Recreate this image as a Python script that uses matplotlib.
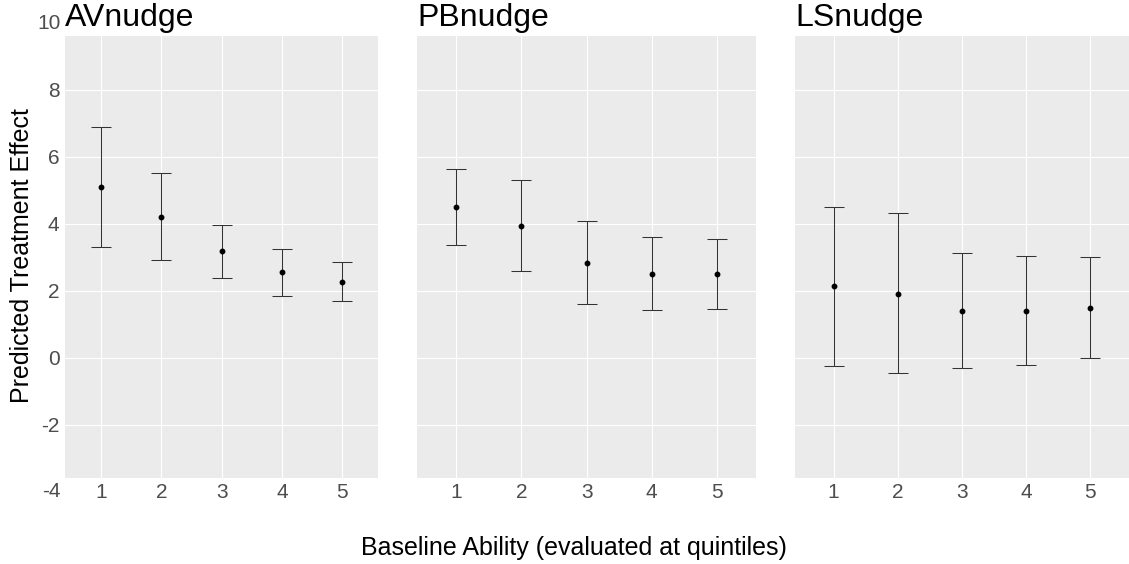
import numpy as np
import matplotlib.pyplot as plt
from matplotlib import transforms

plt.rcParams['font.family'] = ['Liberation Sans', 'DejaVu Sans']
plt.rcParams['axes.unicode_minus'] = False

# Data
quintiles = [1, 2, 3, 4, 5]
panels = ["AVnudge", "PBnudge", "LSnudge"]

av_est = [5.09, 4.21, 3.20, 2.55, 2.26]
av_low = [3.30, 2.91, 2.37, 1.83, 1.68]
av_high = [6.90, 5.53, 3.97, 3.26, 2.86]

pb_est = [4.49, 3.94, 2.84, 2.51, 2.49]
pb_low = [3.37, 2.58, 1.59, 1.42, 1.47]
pb_high = [5.63, 5.30, 4.10, 3.60, 3.54]

ls_est = [2.15, 1.91, 1.40, 1.40, 1.50]
ls_low = [-0.24, -0.47, -0.32, -0.22, 0.00]
ls_high = [4.51, 4.31, 3.14, 3.04, 3.00]

estimates = [av_est, pb_est, ls_est]
lows = [av_low, pb_low, ls_low]
highs = [av_high, pb_high, ls_high]

y_ticks = [-2, 0, 2, 4, 6, 8]
y_outside = [10, -4]  # labels drawn beyond the panel limits in the original

fig = plt.figure(figsize=(11.29, 5.64), dpi=100)

# panel positions [left, bottom, width, height] in figure fractions
boxes = [[0.0576, 0.153, 0.2775, 0.7832],
         [0.3696, 0.153, 0.3000, 0.7832],
         [0.7042, 0.153, 0.2958, 0.7832]]

for i, name in enumerate(panels):
    ax = fig.add_axes(boxes[i])
    ax.set_facecolor('#EBEBEB')
    for s in ax.spines.values():
        s.set_visible(False)
    ax.grid(True, color='white', linewidth=0.8)
    ax.set_axisbelow(True)

    est = np.array(estimates[i])
    err = [est - np.array(lows[i]), np.array(highs[i]) - est]
    ax.errorbar(quintiles, est, yerr=err, fmt='none', ecolor='#333333',
                elinewidth=0.75, capsize=7.2, capthick=0.75)
    ax.plot(quintiles, est, 'o', color='black', markersize=3.2)

    ax.set_xlim(0.4, 5.6)
    ax.set_ylim(-3.586, 9.614)
    ax.set_xticks(quintiles)
    ax.set_yticks(y_ticks)
    ax.tick_params(length=0, labelsize=15, labelcolor='#4D4D4D', pad=4)
    if i == 0:
        trans = transforms.blended_transform_factory(ax.transAxes, ax.transData)
        for v in y_outside:
            ax.text(-0.013, v, str(v), transform=trans, ha='right', va='center',
                    fontsize=15, color='#4D4D4D', clip_on=False)
    else:
        ax.tick_params(labelleft=False)
    ax.set_title(name, loc='left', fontsize=23, pad=7.5, color='black')

fig.text(0.0195, 0.547, 'Predicted Treatment Effect', rotation=90,
         ha='center', va='center', fontsize=18)
fig.text(0.5085, 0.028, 'Baseline Ability (evaluated at quintiles)',
         ha='center', va='center', fontsize=18)

plt.savefig('out.png', dpi=100)
